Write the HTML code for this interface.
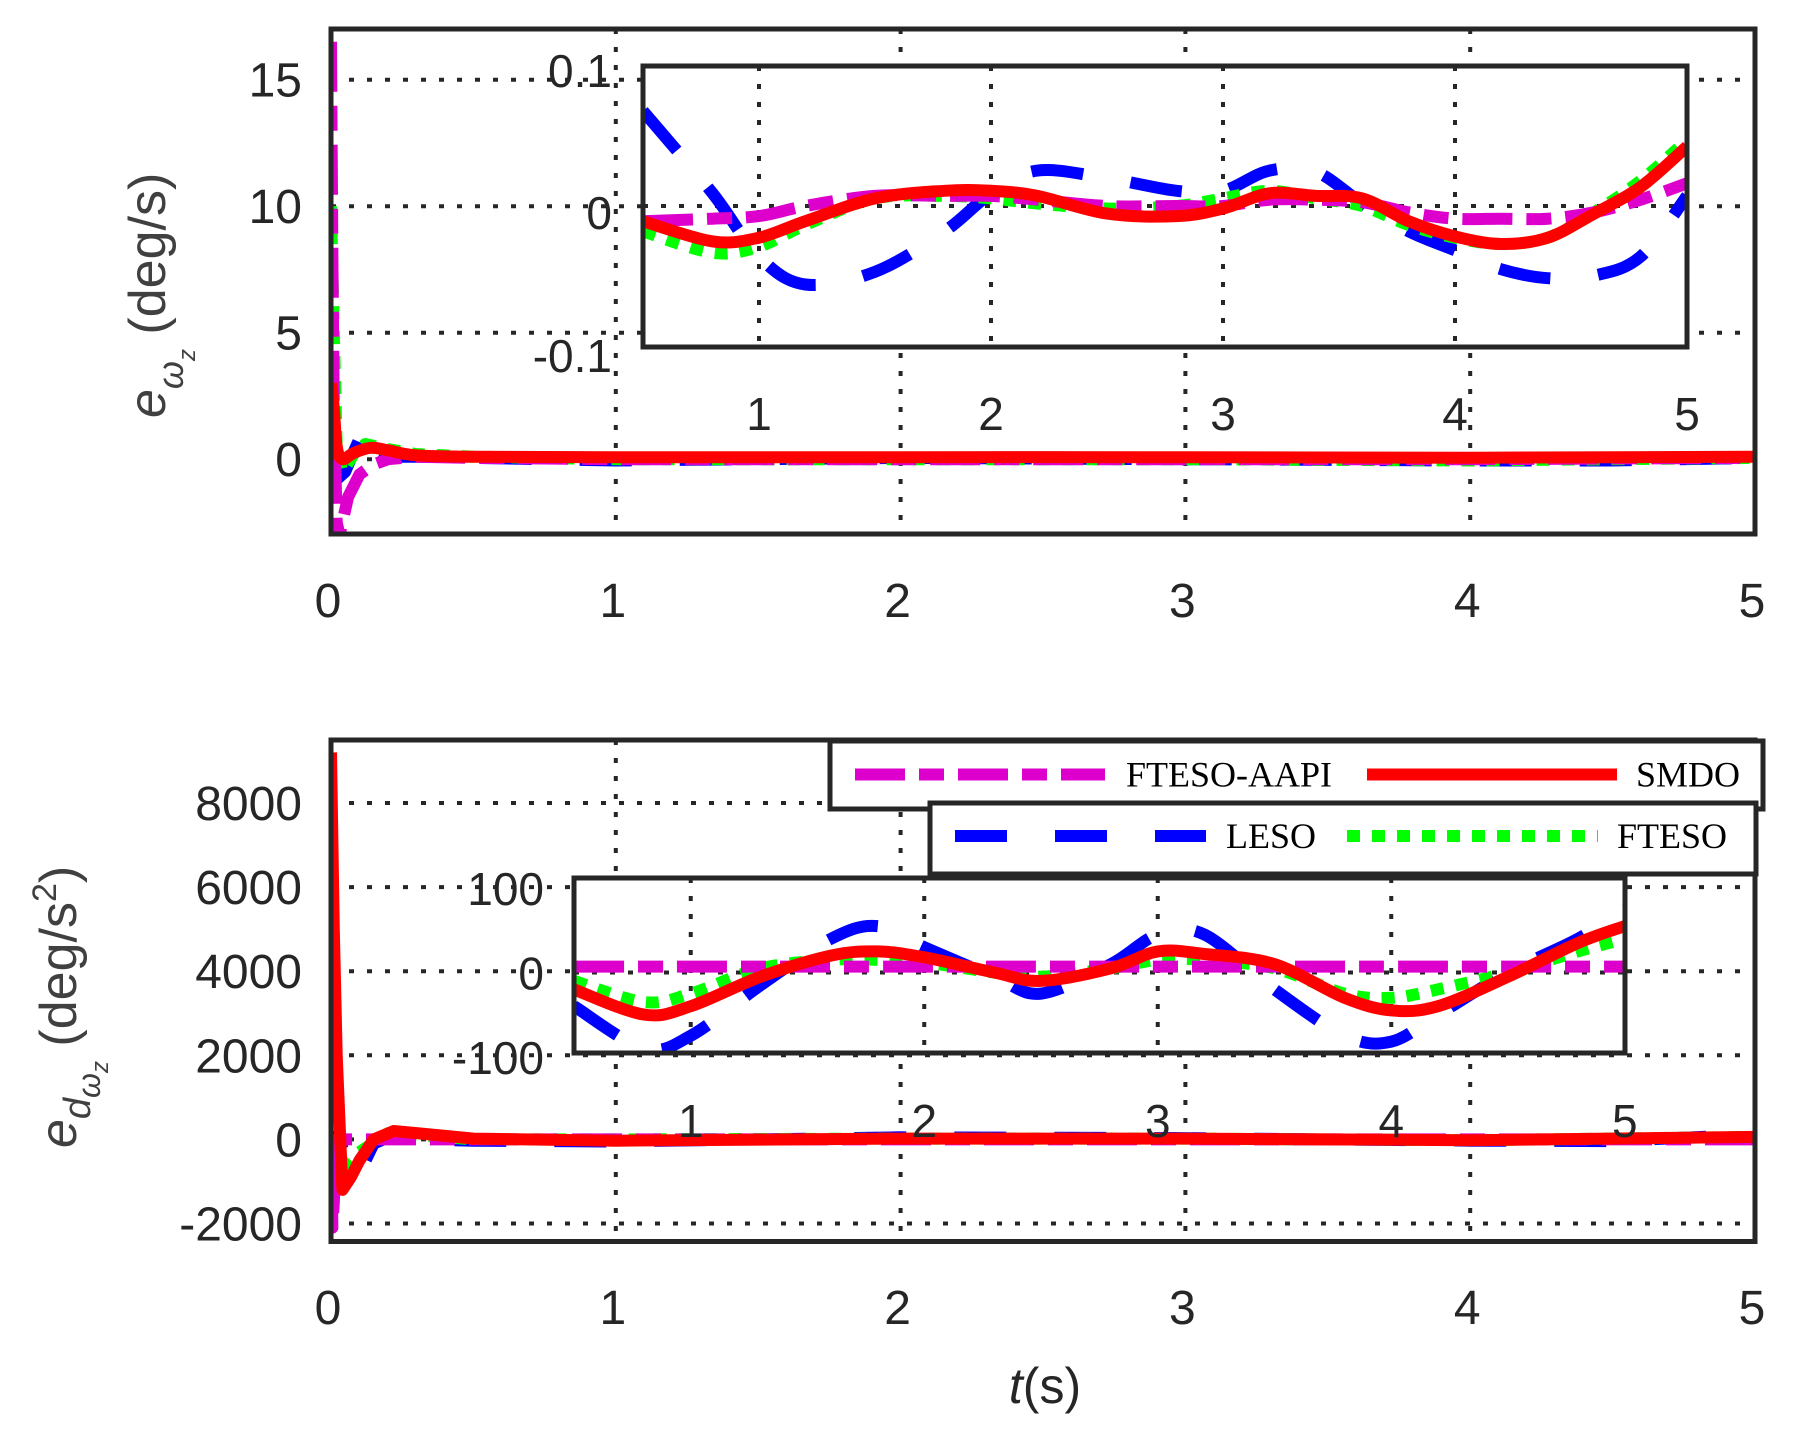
<!DOCTYPE html>
<html><head><meta charset="utf-8">
<style>
html,body{margin:0;padding:0;background:#fff;}
svg{display:block;}
text{font-family:"Liberation Sans",sans-serif;fill:#262626;}
.leg{font-family:"Liberation Serif",serif;font-size:36px;fill:#000;}
</style></head>
<body>
<svg id="fig" width="1820" height="1432" viewBox="0 0 1820 1432" xmlns="http://www.w3.org/2000/svg">
<defs>
<clipPath id="c1"><rect x="331" y="29" width="1424" height="505"/></clipPath>
<clipPath id="c2"><rect x="331" y="740" width="1424" height="501"/></clipPath>
<clipPath id="c3"><rect x="643" y="66" width="1044" height="281"/></clipPath>
<clipPath id="c4"><rect x="574" y="878" width="1051" height="175"/></clipPath>
</defs>
<g id="root"></g>
</svg>
<script>
// ---- data ----
const seriesNames = ["LESO","FTESO","FTESO-AAPI","SMDO"];
// top main (t, value)
const topLesoT = [0,0.02,0.05,0.08,0.12,0.15,0.2,0.3,0.5,1,2,3,4,4.5,5];
const topLesoV = [-1,-0.8,-0.5,0.3,1.3,0.5,0.1,0.1,0.05,-0.05,0.05,0.0,-0.05,-0.05,0.05];
const topFtesoT = [0,0.01,0.02,0.04,0.08,0.12,0.2,0.3,0.5,1,2,3,4,5];
const topFtesoV = [10,5,0.5,-0.5,0.2,0.6,0.4,0.2,0.1,0.0,0.0,0.0,-0.05,0.05];
const topAapiT = [0,0.005,0.01,0.02,0.03,0.06,0.1,0.15,0.2,0.3,0.5,1,2,3,4,5];
const topAapiV = [16.5,8,2,-2.5,-3,-1.5,-0.6,-0.2,0.0,0.1,0.05,0.0,0.0,0.0,0.0,0.05];
const topSmdoT = [0,0.01,0.02,0.04,0.08,0.14,0.2,0.3,0.5,1,2,3,4,5];
const topSmdoV = [3.0,2.0,0.5,0.0,0.25,0.45,0.35,0.15,0.1,0.08,0.08,0.08,0.06,0.1];
// top inset
const tiT = [0.5,0.8,1.0,1.2,1.5,1.8,2.0,2.2,2.5,2.8,3.0,3.2,3.4,3.6,3.8,4.0,4.2,4.4,4.6,4.8,5.0];
const tiLeso = [0.075,0.01,-0.04,-0.062,-0.052,-0.02,0.01,0.028,0.022,0.012,0.012,0.028,0.027,0.002,-0.02,-0.035,-0.05,-0.057,-0.055,-0.04,0.008];
const tiFteso = [-0.02,-0.037,-0.032,-0.015,0.006,0.008,0.006,0.002,-0.002,0.0,0.006,0.012,0.006,0.0,-0.015,-0.025,-0.03,-0.025,-0.005,0.02,0.052];
const tiAapi = [-0.012,-0.01,-0.008,0.0,0.008,0.008,0.008,0.005,0.0,0.0,0.0,0.005,0.005,0.003,-0.005,-0.01,-0.01,-0.01,-0.005,0.005,0.018];
const tiSmdo = [-0.012,-0.028,-0.025,-0.012,0.006,0.012,0.012,0.008,-0.006,-0.008,-0.002,0.01,0.008,0.006,-0.012,-0.024,-0.03,-0.025,-0.006,0.015,0.047];
// bottom main
const botLesoT = [0,0.02,0.05,0.1,0.15,0.2,0.3,0.5,1,2,3,4,4.5,5];
const botLesoV = [1000,500,-600,-800,-100,50,0,-30,-50,50,30,-30,-40,120];
const botFtesoT = [0,0.02,0.05,0.1,0.2,0.3,0.5,1,2,3,4,5];
const botFtesoV = [500,-300,-700,-300,150,100,0,0,20,20,-20,60];
const botAapiT = [0,0.005,0.01,0.02,0.03,0.05,0.2,1,2,3,4,5];
const botAapiV = [0,-2100,-1500,0,0,0,0,0,0,0,0,0];
const botSmdoT = [0,0.01,0.02,0.04,0.07,0.1,0.15,0.22,0.3,0.5,1,2,3,4,5];
const botSmdoV = [9200,5000,2000,-1200,-900,-500,0,200,150,20,-30,20,20,-20,60];
// bottom inset
const biT = [0.5,0.8,1.0,1.3,1.6,1.8,2.0,2.3,2.5,2.8,3.0,3.2,3.5,3.8,4.0,4.2,4.5,4.8,5.0];
const biLeso = [-40,-90,-75,-15,40,55,30,-5,-25,10,45,45,-20,-75,-82,-50,0,40,75];
const biFteso = [-10,-35,-25,5,15,15,12,0,-5,5,15,15,5,-25,-30,-20,0,25,40];
const biAapi = [7,7,7,7,7,7,7,7,7,7,7,7,7,7,7,7,7,7,7];
const biSmdo = [-20,-50,-40,-5,20,25,18,0,-10,5,25,22,10,-30,-45,-40,-5,35,55];
// tick labels
const mainXTicks = [0,1,2,3,4,5];
const topYTicks = [0,5,10,15];
const botYTicks = [-2000,0,2000,4000,6000,8000];
const insetXTicks = [1,2,3,4,5];
const topInsetYTicks = [-0.1,0,0.1];
const botInsetYTicks = [-100,0,100];

// ---- helpers ----
const NS = "http://www.w3.org/2000/svg";
const root = document.getElementById("root");
function el(tag, attrs, parent, txt){
  const e = document.createElementNS(NS, tag);
  for (const k in attrs) e.setAttribute(k, attrs[k]);
  if (txt !== undefined) e.textContent = txt;
  (parent||root).appendChild(e);
  return e;
}
const mx = t => 331 + t*284.8;
const tyTop = v => 459.2 - v*25.3;
const tyBot = v => 1139.4 - v*0.04205;
const tix = t => 643 + (t-0.5)*232;
const tiy = v => 206 - v*1266;
const bix = t => 574 + (t-0.5)*233.5;
const biy = v => 972.5 - v*0.843;

const styles = {
  LESO:{c:"#0000ff",d:"52 48"},
  FTESO:{c:"#00ff00",d:"13 12"},
  "FTESO-AAPI":{c:"#dd00cc",d:"50 14 25 14"},
  SMDO:{c:"#ff0000",d:""}
};
function smoothPath(xs, ys){
  let d = "M"+xs[0].toFixed(1)+","+ys[0].toFixed(1);
  for (let i=0;i<xs.length-1;i++){
    const x0=xs[Math.max(i-1,0)], y0=ys[Math.max(i-1,0)];
    const x1=xs[i], y1=ys[i], x2=xs[i+1], y2=ys[i+1];
    const x3=xs[Math.min(i+2,xs.length-1)], y3=ys[Math.min(i+2,xs.length-1)];
    const c1x=x1+(x2-x0)/6, c1y=y1+(y2-y0)/6, c2x=x2-(x3-x1)/6, c2y=y2-(y3-y1)/6;
    d += " C"+c1x.toFixed(1)+","+c1y.toFixed(1)+" "+c2x.toFixed(1)+","+c2y.toFixed(1)+" "+x2.toFixed(1)+","+y2.toFixed(1);
  }
  return d;
}
function line(g, T, V, fx, fy, name, w, smooth){
  const xs = T.map(fx), ys = V.map(fy);
  const s = styles[name];
  const d = smooth ? smoothPath(xs, ys) : "M"+xs.map((x,i)=>x.toFixed(1)+","+ys[i].toFixed(1)).join(" L");
  const p = el("path",{d:d,fill:"none",stroke:s.c,"stroke-width":w,"stroke-dasharray":s.d,"stroke-linejoin":"round"},g);
  
  
  return p;
}
const GRID = {stroke:"#262626","stroke-width":4,"stroke-dasharray":"5 13",fill:"none"};

function mainAxes(y0, y1, fy, yTicks, labelsY, prefix){
  const g = el("g",{});
  
  
  el("rect",{x:331,y:y0,width:1424,height:y1-y0,fill:"#fff"},g);
  mainXTicks.forEach(t=>{ if(t>0&&t<5){ const gl=el("line",Object.assign({x1:mx(t),x2:mx(t),y1:y0,y2:y1},GRID),g);
      }});
  yTicks.forEach(v=>{ const y=fy(v); const gl=el("line",Object.assign({x1:331,x2:1755,y1:y,y2:y},GRID),g);
     
    const tl=el("text",{x:302,y:y+17,"text-anchor":"end","font-size":48},g,String(v));
      });
  mainXTicks.forEach(t=>{ const tl=el("text",{x:mx(t)-3,y:labelsY,"text-anchor":"middle","font-size":48},g,String(t));
      });
  return g;
}
function frame(x,y,w,h,name){
  const r = el("rect",{x:x,y:y,width:w,height:h,fill:"none",stroke:"#262626","stroke-width":5});
   
  return r;
}

// ===== TOP PLOT =====
mainAxes(29,534,tyTop,topYTicks,617,"top");
let gl = el("g",{"clip-path":"url(#c1)"});
 
line(gl, topLesoT, topLesoV, mx, tyTop, "LESO", 12, false);
line(gl, topFtesoT, topFtesoV, mx, tyTop, "FTESO", 12, false);
line(gl, topAapiT, topAapiV, mx, tyTop, "FTESO-AAPI", 12, false);
line(gl, topSmdoT, topSmdoV, mx, tyTop, "SMDO", 12, true);
frame(331,29,1424,505,"top-plot-frame");

// top inset
let ig = el("g",{});
 
el("rect",{x:643,y:66,width:1044,height:281,fill:"#fff"},ig);
insetXTicks.forEach(t=>{ if(t<5){ el("line",Object.assign({x1:tix(t),x2:tix(t),y1:66,y2:347},GRID),ig);} 
  const tl=el("text",{x:tix(t),y:430,"text-anchor":"middle","font-size":46},ig,String(t));
    });
el("line",Object.assign({x1:643,x2:1687,y1:tiy(0),y2:tiy(0)},GRID),ig);
const tiLabelY = {"-0.1":372,"0":229,"0.1":87};
topInsetYTicks.forEach(v=>{ const tl=el("text",{x:612,y:tiLabelY[String(v)],"text-anchor":"end","font-size":46},ig,String(v));
    });
let igc = el("g",{"clip-path":"url(#c3)"},ig);
line(igc, tiT, tiLeso, tix, tiy, "LESO", 12, true);
line(igc, tiT, tiFteso, tix, tiy, "FTESO", 12, true);
line(igc, tiT, tiAapi, tix, tiy, "FTESO-AAPI", 12, true);
line(igc, tiT, tiSmdo, tix, tiy, "SMDO", 12, true);
frame(643,66,1044,281,"top-inset-frame");

// top y label
let yl = el("text",{transform:"translate(165,418) rotate(-90)","font-size":52,fill:"#404040"});
 
yl.innerHTML = '<tspan fill="#404040" font-style="italic">e</tspan><tspan font-size="36" font-style="italic" dy="18" fill="#404040">ω</tspan><tspan font-size="24" font-style="italic" dy="12" fill="#404040">z</tspan><tspan dy="-30" fill="#404040"> (deg/s)</tspan>';

// ===== BOTTOM PLOT =====
mainAxes(740,1241.5,tyBot,botYTicks,1324,"bottom");
let gl2 = el("g",{"clip-path":"url(#c2)"});
 
line(gl2, botLesoT, botLesoV, mx, tyBot, "LESO", 12, false);
line(gl2, botFtesoT, botFtesoV, mx, tyBot, "FTESO", 12, false);
line(gl2, botAapiT, botAapiV, mx, tyBot, "FTESO-AAPI", 12, false);
line(gl2, botSmdoT, botSmdoV, mx, tyBot, "SMDO", 12, false);
frame(331,740,1424,501.5,"bottom-plot-frame");

// bottom inset
let ig2 = el("g",{});
 
el("rect",{x:574,y:878,width:1051,height:175,fill:"#fff"},ig2);
insetXTicks.forEach(t=>{ if(t<5){ el("line",Object.assign({x1:bix(t),x2:bix(t),y1:878,y2:1053},GRID),ig2);} 
  const tl=el("text",{x:bix(t),y:1137,"text-anchor":"middle","font-size":46},ig2,String(t));
    });
el("line",Object.assign({x1:574,x2:1625,y1:biy(0),y2:biy(0)},GRID),ig2);
botInsetYTicks.forEach(v=>{ const tl=el("text",{x:544,y:biy(v)+17,"text-anchor":"end","font-size":46},ig2,String(v));
    });
let igc2 = el("g",{"clip-path":"url(#c4)"},ig2);
line(igc2, biT, biLeso, bix, biy, "LESO", 12, true);
line(igc2, biT, biFteso, bix, biy, "FTESO", 12, true);
line(igc2, biT, biAapi, bix, biy, "FTESO-AAPI", 12, true);
line(igc2, biT, biSmdo, bix, biy, "SMDO", 12, true);
frame(574,878,1051,175,"bottom-inset-frame");

// bottom y label
let yl2 = el("text",{transform:"translate(76,1148) rotate(-90)","font-size":52,fill:"#404040"});
 
yl2.innerHTML = '<tspan fill="#404040" font-style="italic">e</tspan><tspan font-size="38" font-style="italic" dy="14" fill="#404040">d</tspan><tspan font-size="32" font-style="italic" dy="10" fill="#404040">ω</tspan><tspan font-size="24" font-style="italic" dy="8" fill="#404040">z</tspan><tspan dy="-32" fill="#404040">  (deg/s</tspan><tspan font-size="34" dy="-20" fill="#404040">2</tspan><tspan dy="20" fill="#404040">)</tspan>';

// x label
let xl = el("text",{x:1045,y:1403,"text-anchor":"middle","font-size":50,fill:"#262626"});
 
xl.innerHTML = '<tspan font-style="italic">t</tspan>(s)';

// ===== LEGENDS =====
function legendBox(x,y,w,h,entries,name){
  const g = el("g",{});
   
  el("rect",{x:x,y:y,width:w,height:h,fill:"#fff",stroke:"#262626","stroke-width":5},g);
  entries.forEach(en=>{
    const s = styles[en.n];
    const ln = el("line",{x1:en.x1,x2:en.x2,y1:en.y,y2:en.y,stroke:s.c,"stroke-width":12,"stroke-dasharray":s.d},g);
     
    const t = el("text",{x:en.tx,y:en.y+12,"class":"leg"},g,en.n);
     
  });
}
legendBox(830,741,933,68,[{n:"FTESO-AAPI",x1:855,x2:1105,y:774.5,tx:1126},{n:"SMDO",x1:1367,x2:1617,y:774.5,tx:1636}],"legend-top");
legendBox(930,803,826,71,[{n:"LESO",x1:955,x2:1206,y:836,tx:1226},{n:"FTESO",x1:1347,x2:1598,y:836,tx:1617}],"legend-bottom");
</script>
</body></html>
